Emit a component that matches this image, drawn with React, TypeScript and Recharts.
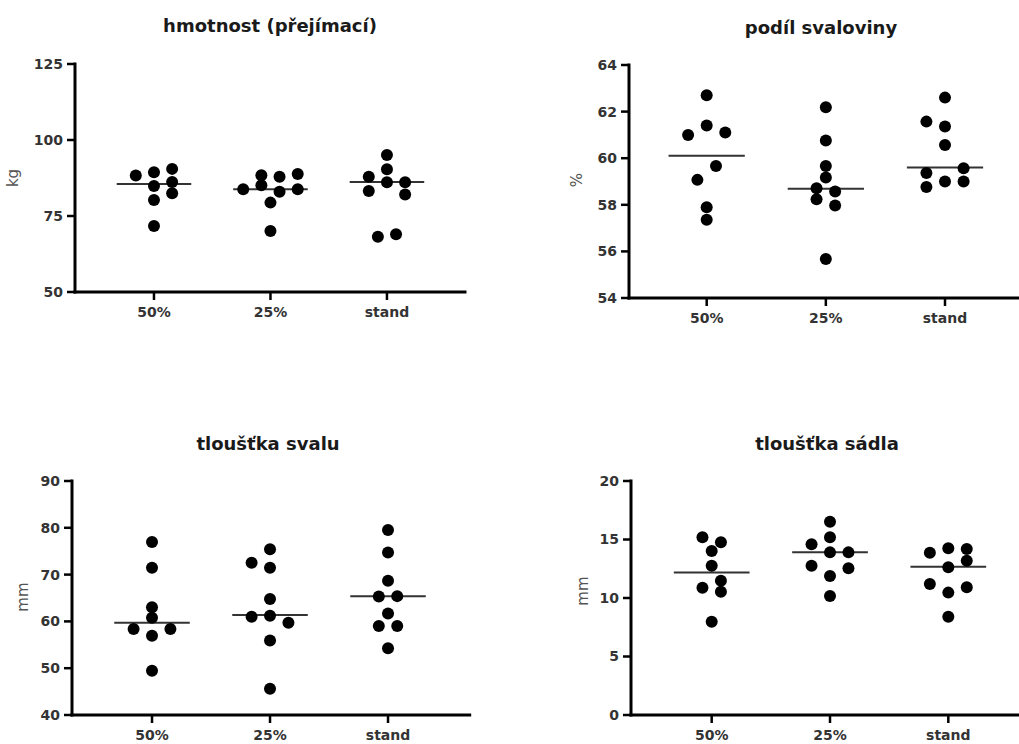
import React from 'react';
import { ScatterChart, Scatter, XAxis, YAxis, ReferenceLine } from 'recharts';

// ---------- data ----------
const categories = ['50%', '25%', 'stand'];

// hmotnost (přejímací) [kg]
const hmotnost50 = [88.3, 89.4, 90.5, 84.9, 86.2, 80.3, 82.5, 71.7];
const hmotnost50Col = [-2, 0, 2, 0, 2, 0, 2, 0];
const hmotnost25 = [83.8, 88.4, 85.1, 87.9, 83.0, 88.8, 83.8, 79.4, 70.1];
const hmotnost25Col = [-3, -1, -1, 1, 1, 3, 3, 0, 0];
const hmotnostStand = [87.9, 83.2, 95.1, 90.4, 86.1, 86.1, 82.1, 68.2, 69.0];
const hmotnostStandCol = [-2, -2, 0, 0, 0, 2, 2, -1, 1];
const hmotnostMedian = [85.5, 83.8, 86.2];
const hmotnostTicks = [50, 75, 100, 125];

// podíl svaloviny [%]
const podil50 = [62.7, 61.0, 61.4, 61.1, 59.07, 59.67, 57.89, 57.36];
const podil50Col = [0, -2, 0, 2, -1, 1, 0, 0];
const podil25 = [62.19, 60.76, 59.67, 59.17, 58.71, 58.57, 58.24, 57.97, 55.67];
const podil25Col = [0, 0, 0, 0, -1, 1, -1, 1, 0];
const podilStand = [62.6, 61.57, 61.36, 60.57, 59.36, 59.57, 58.76, 59.0, 59.0];
const podilStandCol = [0, -2, 0, 0, -2, 2, -2, 0, 2];
const podilMedian = [60.1, 58.69, 59.6];
const podilTicks = [54, 56, 58, 60, 62, 64];

// tloušťka svalu [mm]
const sval50 = [76.97, 71.48, 63.0, 60.8, 58.38, 58.38, 56.95, 49.47];
const sval50Col = [0, 0, 0, 0, -2, 2, 0, 0];
const sval25 = [72.55, 75.4, 71.48, 64.8, 61.0, 61.2, 59.73, 55.9, 45.6];
const sval25Col = [-2, 0, 0, 0, -2, 0, 2, 0, 0];
const svalStand = [79.53, 74.7, 68.7, 65.3, 65.4, 61.7, 59.0, 59.0, 54.25];
const svalStandCol = [0, 0, 0, -1, 1, 0, -1, 1, 0];
const svalMedian = [59.7, 61.35, 65.4];
const svalTicks = [40, 50, 60, 70, 80, 90];

// tloušťka sádla [mm]
const sadlo50 = [15.19, 14.76, 14.02, 12.76, 11.48, 10.88, 10.54, 7.98];
const sadlo50Col = [-1, 1, 0, 0, 1, -1, 1, 0];
const sadlo25 = [16.52, 15.19, 14.59, 13.9, 13.9, 12.76, 12.54, 11.88, 10.17];
const sadlo25Col = [0, 0, -2, 0, 2, -2, 2, 0, 0];
const sadloStand = [13.87, 14.25, 14.19, 13.19, 12.62, 11.2, 10.46, 10.91, 8.4];
const sadloStandCol = [-2, 0, 2, 2, 0, -2, 0, 2, 0];
const sadloMedian = [12.19, 13.9, 12.68];
const sadloTicks = [0, 5, 10, 15, 20];

// ---------- layout / style ----------
const SLOT = 0.078; // horizontal column-scatter slot width (category units)
const HALF = 0.32; // half length of median line (category units)
const FONT = "'DejaVu Sans', Verdana, sans-serif";

type Pt = { x: number; y: number };

function buildPoints(groups: number[][], cols: number[][]): Pt[] {
  const out: Pt[] = [];
  groups.forEach((vals, g) => {
    vals.forEach((v, i) => out.push({ x: g + 1 + cols[g][i] * SLOT, y: v }));
  });
  return out;
}

const Dot = (props: any) => {
  const { cx, cy } = props;
  if (cx == null || cy == null) return null;
  return <circle cx={cx} cy={cy} r={6} fill="#000" />;
};

type Cfg = { left: number; top: number; bottom: number; right: number; xDomain: [number, number] };

function Panel({ cfg, points, medians, ticks }: { cfg: Cfg; points: Pt[]; medians: number[]; ticks: number[] }) {
  const YW = 60;
  const MT = 12;
  const XH = 40;
  const MR = 4;
  const width = YW + (cfg.right - cfg.left) + MR;
  const height = MT + (cfg.bottom - cfg.top) + XH;
  const tickStyle = { fill: '#333', fontSize: 14, fontFamily: FONT, fontWeight: 'bold' };
  const axisLine = { stroke: '#000', strokeWidth: 3, strokeLinecap: 'square' as const };
  const tickLine = { stroke: '#000', strokeWidth: 2.5 };
  return (
    <div style={{ position: 'absolute', left: cfg.left - YW, top: cfg.top - MT }}>
      <ScatterChart width={width} height={height} margin={{ top: MT, right: MR, bottom: 0, left: 0 }}>
        <XAxis
          type="number"
          dataKey="x"
          domain={cfg.xDomain}
          ticks={[1, 2, 3]}
          interval={0}
          allowDataOverflow
          tickFormatter={(v: number) => categories[Math.round(v) - 1]}
          height={XH}
          axisLine={axisLine}
          tickLine={tickLine}
          tickSize={8}
          tickMargin={7}
          tick={tickStyle}
        />
        <YAxis
          type="number"
          dataKey="y"
          domain={[ticks[0], ticks[ticks.length - 1]]}
          ticks={ticks}
          interval={0}
          allowDataOverflow
          width={YW}
          axisLine={axisLine}
          tickLine={tickLine}
          tickSize={8}
          tickMargin={4}
          tick={tickStyle}
        />
        {medians.map((m, g) => (
          <ReferenceLine
            key={g}
            segment={[
              { x: g + 1 - HALF, y: m },
              { x: g + 1 + HALF, y: m },
            ]}
            stroke="#333"
            strokeWidth={2}
          />
        ))}
        <Scatter data={points} shape={Dot} isAnimationActive={false} />
      </ScatterChart>
    </div>
  );
}

const cfg1: Cfg = { left: 75, top: 64, bottom: 292, right: 465, xDomain: [0.322, 3.67] };
const cfg2: Cfg = { left: 629, top: 65, bottom: 298, right: 1022.7, xDomain: [0.348, 3.652] };
const cfg3: Cfg = { left: 72.3, top: 481, bottom: 715, right: 470, xDomain: [0.322, 3.692] };
const cfg4: Cfg = { left: 631, top: 481, bottom: 715, right: 1029, xDomain: [0.318, 3.682] };

export default function App() {
  const p1 = buildPoints([hmotnost50, hmotnost25, hmotnostStand], [hmotnost50Col, hmotnost25Col, hmotnostStandCol]);
  const p2 = buildPoints([podil50, podil25, podilStand], [podil50Col, podil25Col, podilStandCol]);
  const p3 = buildPoints([sval50, sval25, svalStand], [sval50Col, sval25Col, svalStandCol]);
  const p4 = buildPoints([sadlo50, sadlo25, sadloStand], [sadlo50Col, sadlo25Col, sadloStandCol]);
  const titleStyle = { fontFamily: FONT, fontSize: 18, fontWeight: 'bold' as const, fill: '#1a1a1a' };
  const labelStyle = { fontFamily: FONT, fontSize: 15, fill: '#555' };
  return (
    <div style={{ position: 'absolute', left: 0, top: 0, width: 1019, height: 744, overflow: 'hidden', background: '#fff' }}>
      <Panel cfg={cfg1} points={p1} medians={hmotnostMedian} ticks={hmotnostTicks} />
      <Panel cfg={cfg2} points={p2} medians={podilMedian} ticks={podilTicks} />
      <Panel cfg={cfg3} points={p3} medians={svalMedian} ticks={svalTicks} />
      <Panel cfg={cfg4} points={p4} medians={sadloMedian} ticks={sadloTicks} />
      <svg width={1019} height={744} style={{ position: 'absolute', left: 0, top: 0, pointerEvents: 'none' }}>
        <text x={270} y={32} textAnchor="middle" style={titleStyle}>hmotnost (přejímací)</text>
        <text x={821} y={34} textAnchor="middle" style={titleStyle}>podíl svaloviny</text>
        <text x={268} y={450} textAnchor="middle" style={titleStyle}>tloušťka svalu</text>
        <text x={827} y={450} textAnchor="middle" style={titleStyle}>tloušťka sádla</text>
        <text x={18} y={178} textAnchor="middle" transform="rotate(-90 18 178)" style={labelStyle}>kg</text>
        <text x={582} y={180} textAnchor="middle" transform="rotate(-90 582 180)" style={labelStyle}>%</text>
        <text x={28} y={597} textAnchor="middle" transform="rotate(-90 28 597)" style={labelStyle}>mm</text>
        <text x={588} y={591} textAnchor="middle" transform="rotate(-90 588 591)" style={labelStyle}>mm</text>
      </svg>
    </div>
  );
}
